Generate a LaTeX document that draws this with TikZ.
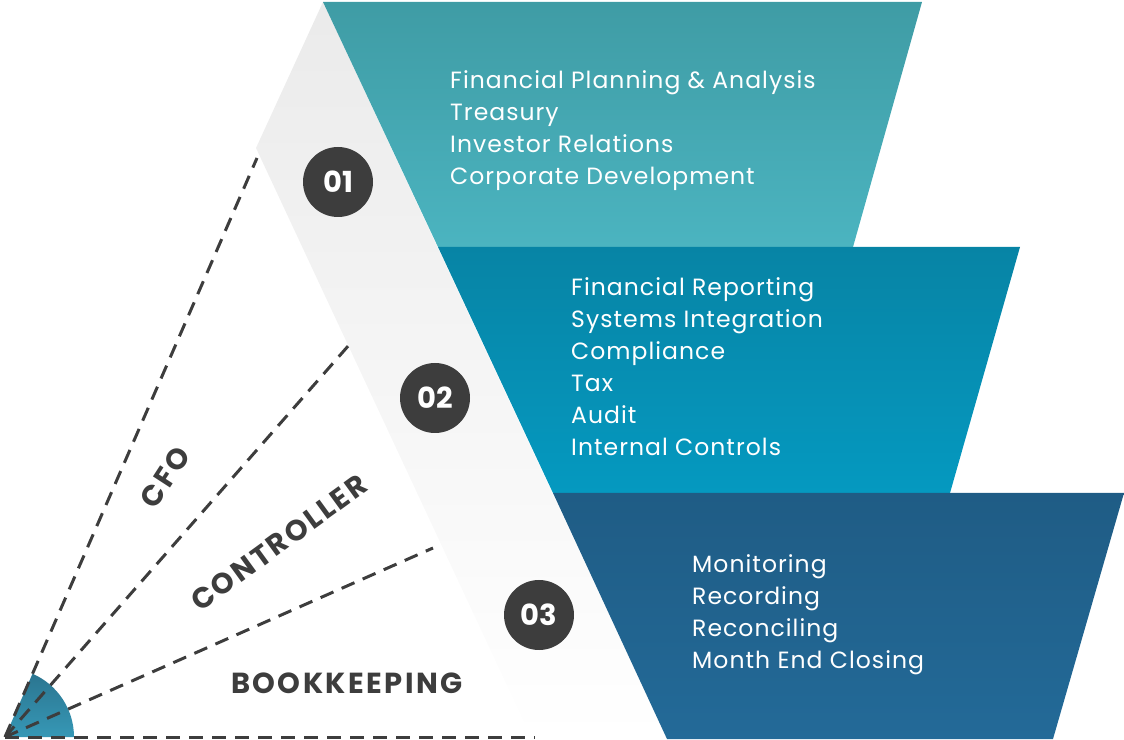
\documentclass[tikz,border=0pt]{standalone}
\usepackage{fontspec}
\setmainfont{Poppins}
\newfontfamily\taskfont[LetterSpace=4.4]{Poppins}
\newfontfamily\rolefont[LetterSpace=8.5]{Poppins}
\usepackage{tikz}
\usetikzlibrary{arrows.meta,calc}
\definecolor{ink}{HTML}{3D3D3D}
\definecolor{tealA}{HTML}{3F9CA5}
\definecolor{tealB}{HTML}{4BB4C0}
\definecolor{cyanA}{HTML}{0784A5}
\definecolor{cyanB}{HTML}{0599C0}
\definecolor{navyA}{HTML}{1F5C85}
\definecolor{navyB}{HTML}{236A98}
\definecolor{fanA}{HTML}{2B7590}
\definecolor{fanB}{HTML}{3698B6}
\begin{document}
\begin{tikzpicture}[x=1pt,y=1pt,
    divider/.style={ink,line width=3pt,dash pattern=on 14pt off 9pt},
    badge/.style={circle,fill=ink,minimum size=70pt,inner sep=0pt,text=white,font=\fontsize{29}{30}\selectfont\bfseries},
    role/.style={ink,font=\rolefont\fontsize{29}{30}\selectfont\bfseries},
    tasks/.style={text=white,anchor=north west,align=left,inner sep=0pt,font=\taskfont\fontsize{23.5}{32}\selectfont}]
      \useasboundingbox (0,0) rectangle (1124,739);
      % grey band behind the levels
      \shade[top color=black!8,bottom color=white] (323,737) -- (256,591) -- (532,0) -- (667,0) -- cycle;
      % the three levels
      \shade[top color=tealA,bottom color=tealB] (323,737) -- (922,737) -- (853,492) -- (438,492) -- cycle;
      \shade[top color=cyanA,bottom color=cyanB] (438,492) -- (1020,492) -- (950,246) -- (553,246) -- cycle;
      \shade[top color=navyA,bottom color=navyB] (553,246) -- (1124,246) -- (1053,0) -- (667,0) -- cycle;
      % fan at the corner
      \coordinate (O) at (5,2);
      \shade[top color=fanA,bottom color=fanB] (O) -- ++(69,0) arc[start angle=0,end angle=66.5,radius=69] -- cycle;
      \coordinate (cfoEnd) at (257,581);
      \coordinate (ctrlEnd) at (349,394);
      \coordinate (bookEnd) at (433,191);
      \coordinate (baseEnd) at (535,2);
      \foreach \e in {cfoEnd,ctrlEnd,bookEnd,baseEnd}{
        \draw[divider] (O) -- (\e);
      }
      \node[role,rotate=57] (cfo) at (165,262) {CFO};
      \node[role,rotate=36] (ctrl) at (279,196) {CONTROLLER};
      \node[role] (book) at (347,56) {BOOKKEEPING};
      % numbered badges
      \foreach \n/\x/\y in {01/338/557,02/435/341,03/539/124}{
        \node[badge] (b\n) at (\x,\y) {\n};
      }
      \node[tasks] (cfoTasks) at (450,669) {Financial Planning \& Analysis\\Treasury\\Investor Relations\\Corporate Development};
      \node[tasks] (ctrlTasks) at (571,462) {Financial Reporting\\Systems Integration\\Compliance\\Tax\\Audit\\Internal Controls};
      \node[tasks] (bookTasks) at (692,185) {Monitoring\\Recording\\Reconciling\\Month End Closing};
    \end{tikzpicture}
\end{document}
